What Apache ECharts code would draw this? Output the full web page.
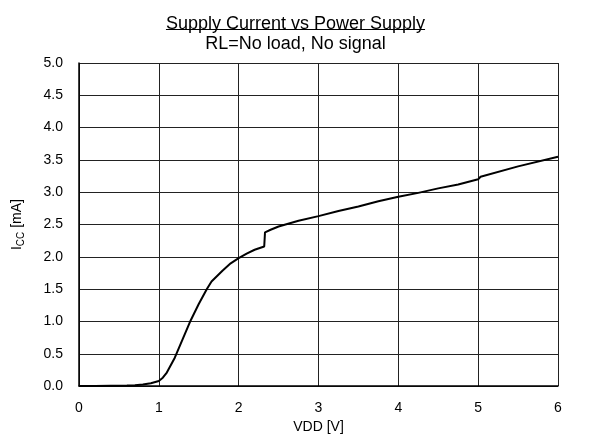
<!DOCTYPE html>
<html>
<head>
<meta charset="utf-8">
<script src="https://cdn.jsdelivr.net/npm/echarts@6/dist/echarts.min.js"></script>
<style>html,body{margin:0;padding:0;background:#fff}#c{width:591px;height:439px}</style>
</head>
<body>
<div id="c"></div>
<script>
const titleLine1 = 'Supply Current vs Power Supply';
const titleLine2 = 'RL=No load, No signal';
const xName = 'VDD [V]';
const vdd = [0, 0.2, 0.4, 0.6, 0.7, 0.8, 0.9, 1.0, 1.05, 1.1, 1.2, 1.3, 1.4, 1.5, 1.6, 1.66, 1.8, 1.9, 2.0, 2.1, 2.2, 2.32, 2.33, 2.4, 2.5, 2.75, 3.0, 3.25, 3.5, 3.75, 4.0, 4.25, 4.5, 4.75, 5.0, 5.03, 5.05, 5.5, 6.0];
const icc = [0, 0, 0.005, 0.01, 0.015, 0.025, 0.045, 0.08, 0.13, 0.21, 0.44, 0.73, 1.02, 1.27, 1.5, 1.62, 1.79, 1.9, 1.98, 2.05, 2.11, 2.16, 2.38, 2.42, 2.47, 2.56, 2.63, 2.71, 2.78, 2.86, 2.93, 2.99, 3.06, 3.12, 3.2, 3.24, 3.26, 3.4, 3.55];
const font = 'Liberation Sans, Arial, sans-serif';
const titleSize = 18;

const chart = echarts.init(document.getElementById('c'));
const ctx = document.createElement('canvas').getContext('2d');
ctx.font = titleSize + 'px ' + font;
const w1 = ctx.measureText(titleLine1).width;
const cx = 295.5;

chart.setOption({
  animation: false,
  title: {
    text: titleLine1 + '\n' + titleLine2,
    left: 'center',
    top: 9,
    textStyle: { fontFamily: font, fontSize: titleSize, fontWeight: 'normal', color: '#000', lineHeight: 20 }
  },
  graphic: [{
    type: 'line',
    shape: { x1: cx - w1 / 2, y1: 29.5, x2: cx + w1 / 2, y2: 29.5 },
    style: { stroke: '#000', lineWidth: 1 }
  }],
  grid: { left: 79, right: 33, top: 63, bottom: 47, containLabel: false },
  xAxis: {
    type: 'value', min: 0, max: 6, interval: 1,
    name: xName, nameLocation: 'middle', nameGap: 33,
    nameTextStyle: { fontFamily: font, fontSize: 14, color: '#000' },
    axisLine: { show: true, lineStyle: { color: '#000', width: 1.5 } },
    axisTick: { show: false },
    axisLabel: { fontFamily: font, fontSize: 14, color: '#000', margin: 15 },
    splitLine: { show: true, lineStyle: { color: '#222', width: 1 } }
  },
  yAxis: {
    type: 'value', min: 0, max: 5, interval: 0.5,
    name: '{i|I}{s|CC}{n| [mA]}', nameLocation: 'middle', nameGap: 55, nameRotate: 90,
    nameTextStyle: {
      fontFamily: font, fontSize: 14, color: '#000',
      rich: {
        i: { fontFamily: font, fontSize: 14, color: '#000', verticalAlign: 'bottom' },
        s: { fontFamily: font, fontSize: 10, color: '#000', verticalAlign: 'bottom', padding: [0, 0, -2, 0] },
        n: { fontFamily: font, fontSize: 14, color: '#000', verticalAlign: 'bottom' }
      }
    },
    axisLine: { show: true, lineStyle: { color: '#000', width: 1.5 } },
    axisTick: { show: false },
    axisLabel: { fontFamily: font, fontSize: 14, color: '#000', margin: 16, formatter: v => v.toFixed(1) },
    splitLine: { show: true, lineStyle: { color: '#222', width: 1 } }
  },
  series: [{
    type: 'line',
    data: vdd.map((x, i) => [x, icc[i]]),
    showSymbol: false,
    lineStyle: { color: '#000', width: 2 },
    smooth: false
  }]
});
</script>
</body>
</html>
